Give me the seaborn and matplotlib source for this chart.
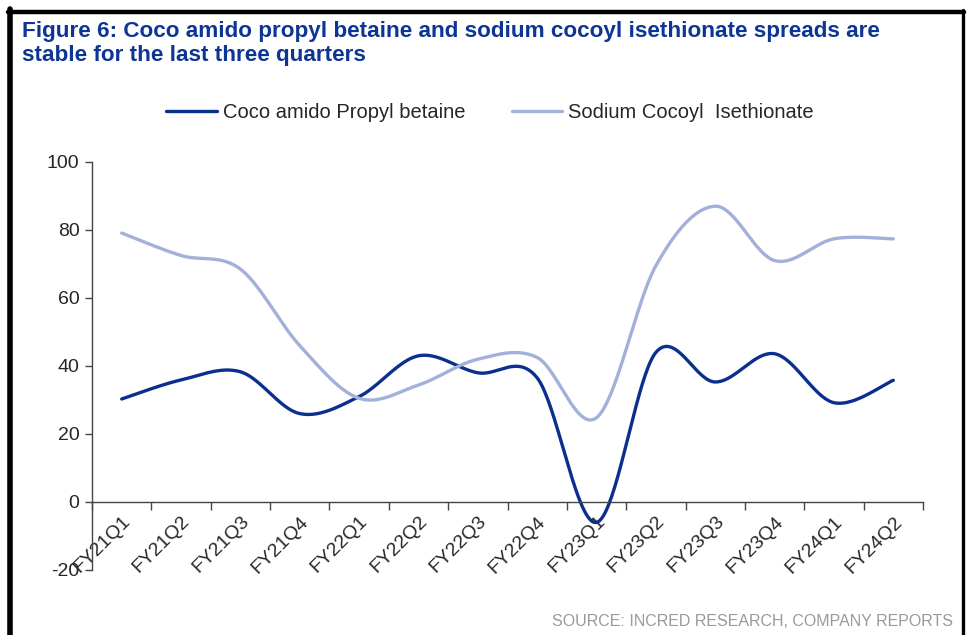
import numpy as np
import pandas as pd
import matplotlib
matplotlib.use("Agg")
import matplotlib.pyplot as plt
import seaborn as sns
from matplotlib.lines import Line2D

# quarters and spreads
quarters = ["FY21Q1", "FY21Q2", "FY21Q3", "FY21Q4", "FY22Q1", "FY22Q2", "FY22Q3",
            "FY22Q4", "FY23Q1", "FY23Q2", "FY23Q3", "FY23Q4", "FY24Q1", "FY24Q2"]
capb = [30.3, 35.9, 38.3, 26.0, 31.0, 43.0, 38.0, 36.5, -6.0, 44.0, 35.3, 43.6, 29.2, 35.8]
scis = [79.1, 72.5, 68.5, 46.0, 30.5, 34.4, 42.0, 42.5, 24.8, 69.5, 87.0, 71.0, 77.4, 77.4]
series_names = ["Coco amido Propyl betaine", "Sodium Cocoyl  Isethionate"]
y_ticks = [-20, 0, 20, 40, 60, 80, 100]

DARK = "#0A2F8F"
LIGHT = "#A3B0DA"
TITLE_C = "#0D3594"


def smooth(y, n=40):
    # Excel-style smoothed line: Catmull-Rom bezier through the points
    y = np.asarray(y, dtype=float)
    x = np.arange(len(y), dtype=float)
    pts = np.column_stack([x, y])
    ext = np.vstack([pts[0], pts, pts[-1]])
    out = []
    t = np.linspace(0, 1, n)[:, None]
    for i in range(len(pts) - 1):
        p0, p1, p2, p3 = ext[i], ext[i + 1], ext[i + 2], ext[i + 3]
        c1 = p1 + (p2 - p0) / 6
        c2 = p2 - (p3 - p1) / 6
        seg = ((1 - t) ** 3) * p1 + 3 * ((1 - t) ** 2) * t * c1 + 3 * (1 - t) * t ** 2 * c2 + t ** 3 * p2
        out.append(seg if i == 0 else seg[1:])
    out = np.vstack(out)
    return out[:, 0], out[:, 1]


sns.set_theme(style="white")
plt.rcParams["font.family"] = ["Liberation Sans", "DejaVu Sans"]

fig = plt.figure(figsize=(9.71, 6.35), dpi=100)
ax = fig.add_axes([92 / 971, 65 / 635, (923 - 92) / 971, (570 - 162) / 635])

frames = []
for name, vals in zip(series_names, [capb, scis]):
    sx, sy = smooth(vals)
    frames.append(pd.DataFrame({"x": sx, "y": sy, "series": name}))
df = pd.concat(frames, ignore_index=True)

sns.lineplot(data=df, x="x", y="y", hue="series", palette=[DARK, LIGHT],
             sort=False, estimator=None, linewidth=2.4, ax=ax, legend=False)

# spines first: moving a spine resets the tick objects
for side in ["top", "right"]:
    ax.spines[side].set_visible(False)
ax.spines["bottom"].set_position(("data", 0))
ax.spines["bottom"].set_color("#444444")
ax.spines["left"].set_color("#444444")
ax.spines["bottom"].set_linewidth(1)
ax.spines["left"].set_linewidth(1)

ax.set_xlim(-0.5, len(quarters) - 0.5)
ax.set_ylim(-20, 100)
ax.set_yticks(y_ticks)
ax.set_yticklabels([str(v) for v in y_ticks], fontsize=14)

# labels sit at category centres, tick marks at the boundaries
ax.set_xticks(np.arange(len(quarters)))
ax.set_xticks(np.arange(len(quarters) + 1) - 0.5, minor=True)
ax.tick_params(axis="x", which="major", length=0, pad=8)
ax.tick_params(axis="x", which="minor", direction="out", length=6, width=1,
               color="#444444", bottom=True)
ax.tick_params(axis="y", direction="out", length=5, width=1, color="#444444", pad=4, left=True)
ax.set_xticklabels(quarters, rotation=45, ha="right", va="top",
                   rotation_mode="anchor", fontsize=14)
ax.set_xlabel("")
ax.set_ylabel("")

handles = [Line2D([], [], color=DARK, linewidth=2.4),
           Line2D([], [], color=LIGHT, linewidth=2.4)]
fig.legend(handles, series_names, loc="center", bbox_to_anchor=(490 / 971, 1 - 113 / 635),
           ncol=2, frameon=False, fontsize=14.5, handlelength=2.5, handletextpad=0.3,
           columnspacing=2.3)

fig.text(22 / 971, 1 - 21 / 635,
         "Figure 6: Coco amido propyl betaine and sodium cocoyl isethionate spreads are\n"
         "stable for the last three quarters",
         ha="left", va="top", fontsize=16.2, fontweight="bold", color=TITLE_C, linespacing=1.2)

fig.text(953 / 971, 1 - 622 / 635, "SOURCE: INCRED RESEARCH, COMPANY REPORTS",
         ha="right", va="center", fontsize=11.5, color="#9A9A9A")

# page frame: thick left and top, thinner right
fig.add_artist(Line2D([10 / 971, 10 / 971], [0, 1 - 9 / 635], transform=fig.transFigure,
                      color="black", linewidth=4))
fig.add_artist(Line2D([8 / 971, 964 / 971], [1 - 11.5 / 635, 1 - 11.5 / 635],
                      transform=fig.transFigure, color="black", linewidth=3.2))
fig.add_artist(Line2D([963 / 971, 963 / 971], [0, 1 - 10 / 635], transform=fig.transFigure,
                      color="black", linewidth=2.4))

fig.savefig("out.png", dpi=100)
